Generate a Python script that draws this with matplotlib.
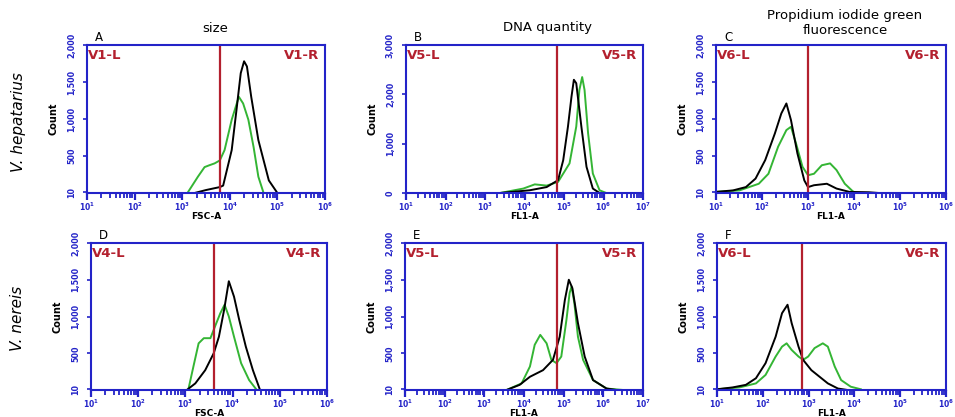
import numpy as np
import matplotlib
matplotlib.use("Agg")
import matplotlib.pyplot as plt
from matplotlib.ticker import LogLocator, NullFormatter, FixedLocator

# x values are log10 of channel intensity, y values are event counts
a_black_x = [3.26, 3.5, 3.79, 3.86, 4.04, 4.14, 4.23, 4.30, 4.36, 4.45, 4.60, 4.82, 5.0]
a_black_y = [0, 40, 80, 100, 580, 1120, 1620, 1780, 1710, 1300, 715, 170, 0]
a_green_x = [3.11, 3.33, 3.47, 3.57, 3.68, 3.79, 3.89, 4.04, 4.19, 4.28, 4.39, 4.50, 4.60, 4.71]
a_green_y = [0, 220, 350, 375, 400, 440, 580, 990, 1300, 1210, 990, 620, 220, 0]

b_black_x = [3.38, 4.13, 4.56, 4.85, 4.98, 5.10, 5.19, 5.25, 5.31, 5.44, 5.57, 5.73, 5.90]
b_black_y = [0, 55, 120, 260, 665, 1345, 1955, 2295, 2225, 1345, 530, 90, 0]
b_green_x = [3.38, 3.97, 4.26, 4.56, 4.85, 5.14, 5.31, 5.39, 5.46, 5.52, 5.61, 5.73, 5.90, 6.07]
b_green_y = [0, 90, 175, 150, 225, 600, 1345, 2090, 2350, 2090, 1210, 395, 55, 0]

c_black_x = [1.0, 1.37, 1.65, 1.86, 2.07, 2.28, 2.42, 2.53, 2.63, 2.77, 2.92, 3.0, 3.13,
             3.41, 3.62, 3.90, 4.32, 4.54]
c_black_y = [15, 35, 80, 195, 445, 805, 1075, 1210, 985, 535, 170, 80, 105,
             125, 60, 15, 10, 0]
c_green_x = [1.0, 1.51, 1.93, 2.14, 2.35, 2.53, 2.63, 2.74, 2.88, 3.0, 3.13, 3.30, 3.48,
             3.62, 3.80, 3.97, 4.04]
c_green_y = [15, 35, 125, 260, 625, 850, 895, 670, 355, 240, 260, 375, 400,
             310, 125, 25, 0]

d_black_x = [3.03, 3.21, 3.42, 3.60, 3.71, 3.82, 3.92, 4.03, 4.14, 4.28, 4.43, 4.57]
d_black_y = [0, 90, 270, 500, 725, 1090, 1480, 1270, 955, 590, 270, 20]
d_green_x = [3.06, 3.17, 3.28, 3.39, 3.53, 3.64, 3.74, 3.83, 3.92, 4.03, 4.18, 4.35, 4.50]
d_green_y = [0, 320, 635, 705, 705, 885, 1045, 1160, 1000, 725, 365, 135, 10]

e_black_x = [3.56, 3.89, 4.15, 4.48, 4.73, 4.90, 5.03, 5.13, 5.22, 5.36, 5.53, 5.74, 6.08, 6.33]
e_black_y = [0, 70, 180, 270, 410, 725, 1225, 1500, 1385, 910, 455, 135, 20, 0]
e_green_x = [3.56, 3.94, 4.15, 4.27, 4.41, 4.57, 4.69, 4.82, 4.94, 5.07, 5.15, 5.20, 5.27,
             5.36, 5.49, 5.74, 6.08, 6.50]
e_green_y = [0, 90, 320, 615, 750, 635, 410, 365, 455, 955, 1320, 1410, 1180,
             725, 410, 135, 20, 0]

f_black_x = [1.0, 1.34, 1.63, 1.85, 2.06, 2.28, 2.42, 2.54, 2.63, 2.78, 2.88, 3.06, 3.24,
             3.42, 3.64, 3.85]
f_black_y = [10, 35, 70, 160, 365, 725, 1045, 1160, 910, 590, 410, 270, 180,
             90, 20, 0]
f_green_x = [1.0, 1.49, 1.85, 2.06, 2.28, 2.42, 2.52, 2.63, 2.78, 2.88, 2.99, 3.13, 3.31,
             3.42, 3.57, 3.71, 3.92, 4.14]
f_green_y = [10, 35, 90, 205, 455, 590, 635, 545, 455, 410, 455, 570, 635,
             590, 320, 135, 45, 10]

gate_pos = {"A": 3.80, "B": 4.83, "C": 3.0, "D": 3.60, "E": 4.83, "F": 2.85}
gate_names = {"A": "V1", "B": "V5", "C": "V6", "D": "V4", "E": "V5", "F": "V6"}
x_decades = {"A": 6, "B": 7, "C": 6, "D": 6, "E": 7, "F": 6}
x_labels = {"A": "FSC-A", "B": "FL1-A", "C": "FL1-A", "D": "FSC-A", "E": "FL1-A", "F": "FL1-A"}
y_max = {"A": 2000, "B": 3000, "C": 2000, "D": 2000, "E": 2000, "F": 2000}
titles = ["size", "DNA quantity", "Propidium iodide green\nfluorescence"]
row_labels = ["V. hepatarius", "V. nereis"]

curves = {
    "A": (a_black_x, a_black_y, a_green_x, a_green_y),
    "B": (b_black_x, b_black_y, b_green_x, b_green_y),
    "C": (c_black_x, c_black_y, c_green_x, c_green_y),
    "D": (d_black_x, d_black_y, d_green_x, d_green_y),
    "E": (e_black_x, e_black_y, e_green_x, e_green_y),
    "F": (f_black_x, f_black_y, f_green_x, f_green_y),
}

BLUE = "#2323c8"
RED = "#b3202e"
GREEN = "#34b534"

W, H = 955, 417
fig = plt.figure(figsize=(W / 100, H / 100), dpi=100)

# pixel boxes: left, right, top, bottom
boxes = {
    "A": (87, 325, 45, 193), "B": (406, 643, 45, 193), "C": (716, 946, 45, 193),
    "D": (91, 327, 243, 390), "E": (405, 643, 243, 390), "F": (717, 946, 243, 390),
}

for key, (l, r, t, b) in boxes.items():
    ax = fig.add_axes([l / W, 1 - b / H, (r - l) / W, (b - t) / H])
    bx, by, gx, gy = curves[key]
    ax.plot(np.power(10.0, gx), gy, color=GREEN, lw=1.4)
    ax.plot(np.power(10.0, bx), by, color="black", lw=1.4)
    ax.axvline(10 ** gate_pos[key], color=RED, lw=1.6)
    ax.set_xscale("log")
    ax.set_xlim(10, 10 ** x_decades[key])
    ym = y_max[key]
    ax.set_ylim(0, ym)

    for s in ax.spines.values():
        s.set_color(BLUE)
        s.set_linewidth(1.5)

    ax.xaxis.set_major_locator(FixedLocator([10 ** k for k in range(1, x_decades[key] + 1)]))
    ax.xaxis.set_minor_locator(LogLocator(base=10, subs=np.arange(2, 10), numticks=20))
    ax.xaxis.set_minor_formatter(NullFormatter())
    ax.set_xticklabels([r"$\mathbf{10^{%d}}$" % k for k in range(1, x_decades[key] + 1)])
    ax.tick_params(axis="x", which="major", length=5, width=1.6, color=BLUE,
                   labelcolor=BLUE, labelsize=5.5, pad=0.5)
    ax.tick_params(axis="x", which="minor", length=3.5, width=1.3, color=BLUE)

    if ym == 3000:
        yt = [0, 1000, 2000, 3000]
        yl = ["0", "1,000", "2,000", "3,000"]
    else:
        yt = [10, 500, 1000, 1500, 2000]
        yl = ["10", "500", "1,000", "1,500", "2,000"]
    ax.set_yticks(yt)
    ax.set_yticklabels(yl, rotation=90, va="center", fontweight="bold")
    ax.tick_params(axis="y", length=3, width=1.2, color=BLUE, labelcolor=BLUE,
                   labelsize=5.8, pad=5)
    ax.set_ylabel("Count", fontsize=7, fontweight="bold", labelpad=6)
    ax.set_xlabel(x_labels[key], fontsize=6.5, fontweight="bold", labelpad=-1)

    g = gate_names[key]
    ax.text(0.005, 0.975, g + "-L", transform=ax.transAxes, color=RED, fontsize=9.5,
            fontweight="bold", ha="left", va="top")
    ax.text(0.975, 0.975, g + "-R", transform=ax.transAxes, color=RED, fontsize=9.5,
            fontweight="bold", ha="right", va="top")
    ax.text(0.035, 1.01, key, transform=ax.transAxes, fontsize=8.5, ha="left", va="bottom")

fig.text(215 / W, 1 - 28 / H, titles[0], fontsize=9.5, ha="center", va="center")
fig.text(547 / W, 1 - 28 / H, titles[1], fontsize=9.5, ha="center", va="center")
fig.text(845 / W, 1 - 23 / H, titles[2], fontsize=9.5, ha="center", va="center",
         linespacing=1.25)
fig.text(18 / W, 1 - 122 / H, row_labels[0], fontsize=11, style="italic", rotation=90,
         ha="center", va="center")
fig.text(18 / W, 1 - 318 / H, row_labels[1], fontsize=11, style="italic", rotation=90,
         ha="center", va="center")

fig.savefig("out.png", dpi=100)
